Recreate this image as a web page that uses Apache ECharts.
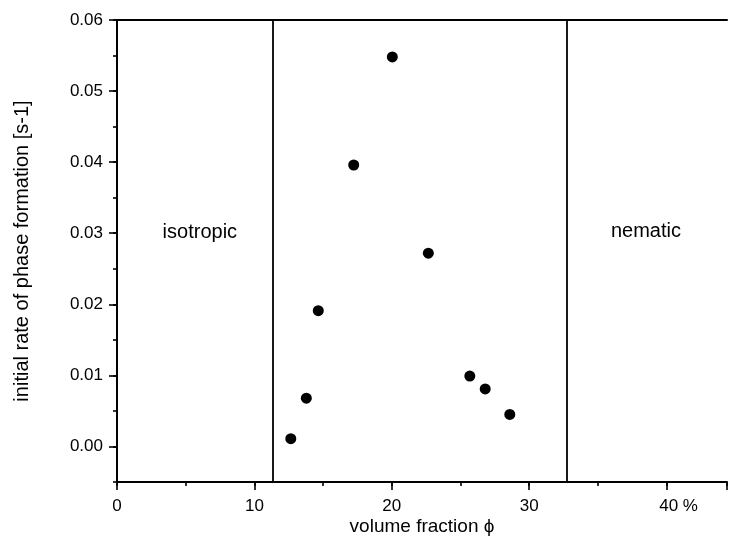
<!DOCTYPE html>
<html>
<head>
<meta charset="utf-8">
<script src="https://cdn.jsdelivr.net/npm/echarts@6/dist/echarts.min.js"></script>
<style>
html,body{margin:0;padding:0;background:#fff;}
#c{width:730px;height:548px;}
</style>
</head>
<body>
<div id="c"></div>
<script>
// ---- data ----
const volumeFraction = [12.65, 13.78, 14.65, 17.23, 20.04, 22.66, 25.68, 26.8, 28.59];
const initialRate    = [0.0011, 0.0068, 0.0191, 0.0396, 0.0548, 0.0272, 0.0099, 0.0081, 0.0045];
const phaseBoundaries = [11.33, 32.75];
const regionLabels = ['isotropic', 'nematic'];
const regionLabelX = [6.03, 38.5];
const regionLabelY = [0.0301, 0.0303];
const xTicks = [0, 10, 20, 30, 40];
const yTicks = [0, 0.01, 0.02, 0.03, 0.04, 0.05, 0.06];
const xTitle = 'volume fraction \u03d5';
const yTitle = 'initial rate of phase formation [s-1]';

const FONT = "'Liberation Sans', Arial, sans-serif";
const X_MIN = 0, X_MAX = 44.4, Y_MIN = -0.005, Y_MAX = 0.06;

const chart = echarts.init(document.getElementById('c'), null, {renderer: 'canvas'});
const lineStyle = {color: '#000', width: 2};

chart.setOption({
  animation: false,
  backgroundColor: '#fff',
  grid: {left: 117, right: 2, top: 20, bottom: 66, containLabel: false},
  xAxis: [
    {
      type: 'value', min: X_MIN, max: X_MAX, interval: 10,
      position: 'bottom',
      name: xTitle, nameLocation: 'middle', nameGap: 35, nameMoveOverlap: false,
      nameTextStyle: {fontFamily: FONT, fontSize: 19, color: '#000'},
      axisLine: {show: true, onZero: false, lineStyle: lineStyle},
      axisTick: {show: true, length: 8, lineStyle: {color: '#000', width: 1.6}},
      axisLabel: {
        fontFamily: FONT, fontSize: 17, color: '#000', margin: 16,
        formatter: v => xTicks.indexOf(v) < 0 ? '' : (v === 40 ? '{p|40 %}' : String(v)),
        rich: {p: {fontFamily: FONT, fontSize: 17, color: '#000', padding: [0, 0, 0, 24]}}
      },
      splitLine: {show: false}
    },
    {
      type: 'value', min: X_MIN, max: X_MAX, interval: 5,
      position: 'bottom',
      axisLine: {show: false, onZero: false},
      axisTick: {show: true, length: 4, lineStyle: {color: '#000', width: 1.6}},
      axisLabel: {show: false},
      splitLine: {show: false}
    },
    {
      type: 'value', min: X_MIN, max: X_MAX, interval: 10,
      position: 'top',
      axisLine: {show: true, onZero: false, lineStyle: lineStyle},
      axisTick: {show: false}, axisLabel: {show: false}, splitLine: {show: false}
    }
  ],
  yAxis: [
    {
      type: 'value', min: Y_MIN, max: Y_MAX,
      position: 'left',
      name: yTitle, nameLocation: 'middle', nameGap: 85, nameMoveOverlap: false,
      nameTextStyle: {fontFamily: FONT, fontSize: 20, color: '#000'},
      axisLine: {show: true, onZero: false, lineStyle: lineStyle},
      axisTick: {show: true, length: 8, customValues: yTicks, lineStyle: {color: '#000', width: 1.6}},
      axisLabel: {
        fontFamily: FONT, fontSize: 17, color: '#000', margin: 14,
        customValues: yTicks,
        formatter: v => v.toFixed(2)
      },
      splitLine: {show: false}
    },
    {
      type: 'value', min: Y_MIN, max: Y_MAX, interval: 0.005,
      position: 'left', offset: 0,
      axisLine: {show: false, onZero: false},
      axisTick: {show: true, length: 4, lineStyle: {color: '#000', width: 1.6}},
      axisLabel: {show: false},
      splitLine: {show: false}
    }
  ],
  series: [
    {
      type: 'scatter',
      xAxisIndex: 0, yAxisIndex: 0,
      symbol: 'circle', symbolSize: 11,
      itemStyle: {color: '#000', opacity: 1},
      data: volumeFraction.map((x, i) => [x, initialRate[i]]),
      markLine: {
        silent: true, symbol: ['none', 'none'],
        label: {show: false},
        lineStyle: {color: '#000', width: 1.8, type: 'solid', opacity: 1},
        data: phaseBoundaries.map(x => ({xAxis: x}))
      }
    },
    {
      type: 'scatter',
      xAxisIndex: 0, yAxisIndex: 0,
      symbolSize: 0,
      silent: true,
      itemStyle: {opacity: 1},
      label: {
        show: true, position: 'inside',
        formatter: p => p.name,
        fontFamily: FONT, fontSize: 20, color: '#000'
      },
      data: regionLabels.map((n, i) => ({name: n, value: [regionLabelX[i], regionLabelY[i]]}))
    }
  ]
});
</script>
</body>
</html>
